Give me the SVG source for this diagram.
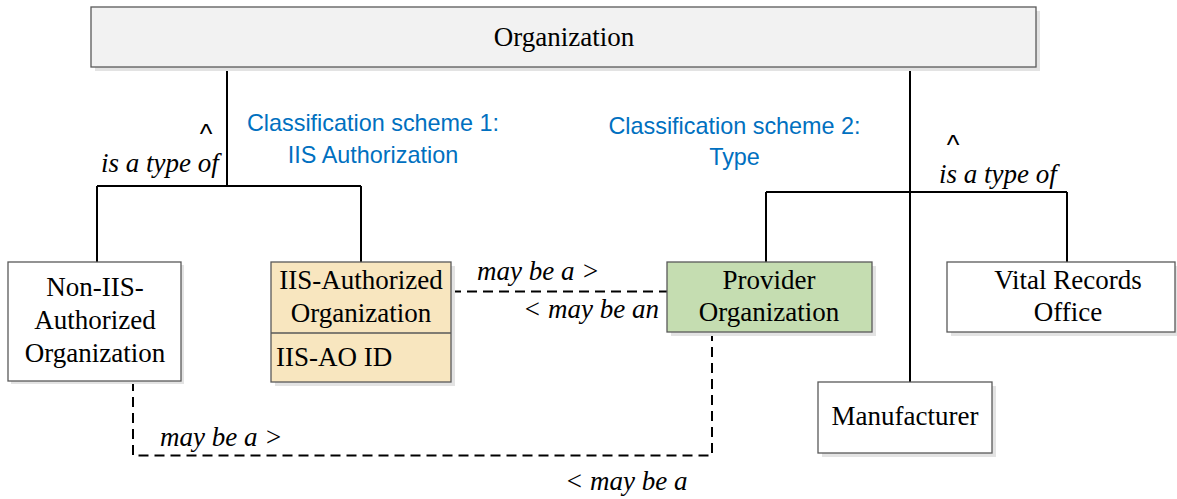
<svg xmlns="http://www.w3.org/2000/svg" width="1177" height="499" viewBox="0 0 1177 499">
<style>
.box{stroke:#595959;stroke-width:1.3}
.shadow{fill:#E3E3E3}
.t{font-family:"Liberation Serif","Times New Roman",serif;font-size:27px;fill:#000}
.c{text-anchor:middle}
.it{font-family:"Liberation Serif","Times New Roman",serif;font-size:27px;font-style:italic;fill:#000}
.blue{font-family:"Liberation Sans",Arial,sans-serif;font-size:23.4px;fill:#0070C0;text-anchor:middle}
.caret{font-family:"Liberation Sans",Arial,sans-serif;font-size:27px;fill:#000;text-anchor:middle}
.solid{fill:none;stroke:#000;stroke-width:2}
.dash{fill:none;stroke:#000;stroke-width:2;stroke-dasharray:10 6}
</style>
<rect width="1177" height="499" fill="#fff"/>
<g id="connectors">
  <path class="solid" d="M227 67 V186 M97 186 H361 M97 186 V262 M361 186 V262"/>
  <path class="solid" d="M910 67 V382 M766 192 H1067 M766 192 V262 M1067 192 V262"/>
  <path class="dash" d="M451 291.5 H667"/>
  <path class="dash" d="M133 381 V455.5 H712 V332"/>
</g>
<g id="labels">
  <text class="caret" x="206" y="143">^</text>
  <text class="it" x="101" y="172">is a type of</text>
  <text class="blue" x="373" y="131">Classification scheme 1:</text>
  <text class="blue" x="373" y="163">IIS Authorization</text>
  <text class="blue" x="734.5" y="134">Classification scheme 2:</text>
  <text class="blue" x="734.5" y="165">Type</text>
  <text class="caret" x="953" y="154">^</text>
  <text class="it" x="939" y="183">is a type of</text>
  <text class="it" x="477" y="280">may be a &gt;</text>
  <text class="it" x="523" y="318">&lt; may be an</text>
  <text class="it" x="160" y="446">may be a &gt;</text>
  <text class="it" x="565" y="490">&lt; may be a</text>
</g>
<g id="organization">
  <rect class="shadow" x="95" y="11" width="945" height="60"/>
  <rect class="box" x="91" y="7" width="945" height="60" fill="#F2F2F2" stroke="#808080"/>
  <text class="t c" x="564" y="45.5">Organization</text>
</g>
<g id="non-iis-authorized-organization">
  <rect class="shadow" x="11" y="265" width="173" height="119"/>
  <rect class="box" x="8" y="262" width="173" height="119" fill="#fff"/>
  <text class="t c" x="95" y="296">Non-IIS-</text>
  <text class="t c" x="95" y="329">Authorized</text>
  <text class="t c" x="95" y="362">Organization</text>
</g>
<g id="iis-authorized-organization">
  <rect class="shadow" x="275" y="266" width="180" height="120"/>
  <rect class="box" x="271" y="262" width="180" height="120" fill="#F8E6BF"/>
  <line class="box" x1="271" y1="333" x2="451" y2="333"/>
  <text class="t c" x="361" y="289">IIS-Authorized</text>
  <text class="t c" x="361" y="322">Organization</text>
  <text class="t" x="276" y="365.5">IIS-AO ID</text>
</g>
<g id="provider-organization">
  <rect class="shadow" x="671" y="266" width="205" height="70"/>
  <rect class="box" x="667" y="262" width="205" height="70" fill="#C5DDB1"/>
  <text class="t c" x="769" y="289">Provider</text>
  <text class="t c" x="769" y="321">Organization</text>
</g>
<g id="vital-records-office">
  <rect class="shadow" x="951" y="266" width="228" height="70"/>
  <rect class="box" x="947" y="262" width="228" height="70" fill="#fff"/>
  <text class="t c" x="1068" y="289">Vital Records</text>
  <text class="t c" x="1068" y="321">Office</text>
</g>
<g id="manufacturer">
  <rect class="shadow" x="822" y="386" width="174" height="71"/>
  <rect class="box" x="818" y="382" width="174" height="71" fill="#fff"/>
  <text class="t c" x="905" y="425">Manufacturer</text>
</g>
</svg>
